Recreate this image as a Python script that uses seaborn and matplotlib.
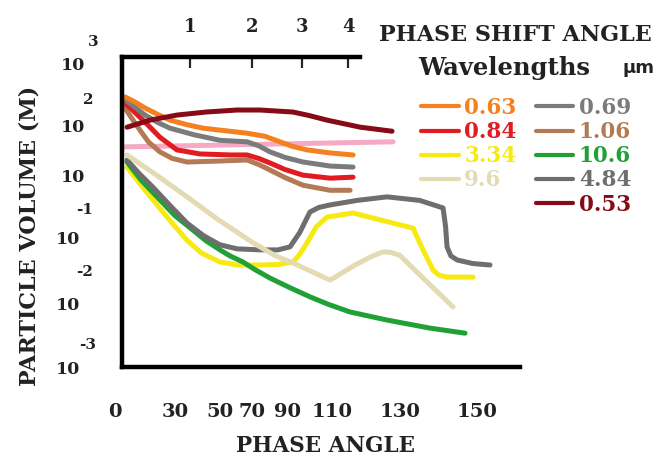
import pandas as pd
import seaborn as sns
import matplotlib.pyplot as plt
from matplotlib.lines import Line2D

# phase angle (x) and log10 particle volume (y)
x_063 = [1.25, 5, 9.6, 15, 20, 27, 33.75, 43, 52.1, 59.6, 65.8, 71, 77.1, 86.7, 96.25]
y_063 = [2.37, 2.28, 2.15, 2.02, 1.91, 1.82, 1.75, 1.70, 1.65, 1.59, 1.48, 1.39, 1.32, 1.26, 1.22]
x_069 = [1.25, 5, 9.6, 15, 20, 30, 40.8, 52.1, 57, 61.7, 68, 75.4, 86.7, 96.25]
y_069 = [2.31, 2.18, 2.01, 1.86, 1.75, 1.62, 1.51, 1.48, 1.40, 1.28, 1.17, 1.08, 1.0, 0.98]
x_084 = [1.25, 5, 9.6, 15.8, 22.9, 32.5, 45, 52.1, 57, 61.7, 68, 75.4, 86.7, 96.25]
y_084 = [2.25, 2.08, 1.87, 1.57, 1.32, 1.24, 1.22, 1.22, 1.15, 1.06, 0.93, 0.82, 0.76, 0.78]
x_106 = [1.25, 4, 7.5, 11, 15.8, 21, 27.1, 40.8, 52.1, 57, 61.7, 68, 75.4, 86.7, 95]
y_106 = [2.15, 1.95, 1.71, 1.48, 1.28, 1.15, 1.08, 1.10, 1.12, 1.03, 0.92, 0.77, 0.62, 0.52, 0.52]
x_pink = [1.25, 57.5, 112.9]
y_pink = [1.38, 1.43, 1.48]
x_053 = [2.1, 11.7, 22.9, 35, 47.9, 57.5, 71.25, 78, 85.4, 99.2, 112.5]
y_053 = [1.77, 1.91, 2.01, 2.07, 2.11, 2.11, 2.07, 2.00, 1.91, 1.77, 1.69]
x_334 = [2.1, 7, 12.9, 20, 27.1, 33, 40.8, 48, 57.5, 65, 71.25, 74, 77.1, 81,
         85.4, 96.25, 121.25, 125, 129.6, 132, 135.4, 146.25]
y_334 = [0.98, 0.68, 0.33, -0.08, -0.47, -0.72, -0.90, -0.96, -0.96, -0.95, -0.90, -0.75, -0.52, -0.20,
         -0.01, 0.07, -0.23, -0.62, -1.06, -1.16, -1.20, -1.20]
x_106b = [2.1, 8, 15.8, 22, 29.6, 35, 40.8, 45, 50.4, 55, 61.7, 70, 78.3, 86, 95, 110.4, 128.3, 142.9]
y_106b = [1.08, 0.72, 0.33, 0.02, -0.27, -0.48, -0.66, -0.78, -0.90, -1.04, -1.22, -1.41, -1.59, -1.74,
          -1.89, -2.05, -2.21, -2.31]
x_484 = [2.1, 7, 12.9, 20, 27.1, 34, 40.8, 48, 57.5, 65, 70, 74, 78.3, 82, 86.7, 98, 110.4,
         124, 133.75, 134.8, 135.4, 137, 139.6, 146, 153.3]
y_484 = [1.12, 0.86, 0.58, 0.22, -0.13, -0.38, -0.56, -0.64, -0.66, -0.66, -0.60, -0.32, 0.09, 0.18,
         0.23, 0.32, 0.39, 0.32, 0.17, -0.20, -0.60, -0.78, -0.86, -0.93, -0.96]
x_96 = [2.1, 15, 27.1, 40, 54.6, 64, 71.25, 86.7, 97.1, 104, 108.75, 112, 115.8, 125, 137.9]
y_96 = [1.22, 0.80, 0.39, -0.06, -0.52, -0.78, -0.92, -1.26, -0.96, -0.79, -0.70, -0.71, -0.77, -1.20, -1.79]

bottom_ticks = [0, 22.1, 40.8, 54.2, 68.75, 87.5, 115.8, 147.9]
bottom_labels = ["0", "30", "50", "70", "90", "110", "130", "150"]
top_ticks = [28.3, 54.2, 75, 94.2]
top_labels = ["1", "2", "3", "4"]

colors = {"0.63": "#f4801f", "0.69": "#7b7b7b", "0.84": "#e01b22", "1.06": "#b27a55",
          "pink": "#f5a9c4", "0.53": "#850b16", "3.34": "#f7ea12", "10.6": "#20a035",
          "4.84": "#6e6e6e", "9.6": "#e3dbb3"}

series = [("pink", x_pink, y_pink), ("1.06", x_106, y_106), ("0.84", x_084, y_084),
          ("0.69", x_069, y_069), ("0.63", x_063, y_063), ("0.53", x_053, y_053),
          ("3.34", x_334, y_334), ("10.6", x_106b, y_106b), ("4.84", x_484, y_484),
          ("9.6", x_96, y_96)]

frames = []
for name, xs, ys in series:
    frames.append(pd.DataFrame({"angle": xs, "volume": ys, "wl": name}))
df = pd.concat(frames, ignore_index=True)

sns.set_style("white")
plt.rcParams["font.family"] = ["DejaVu Serif"]
plt.rcParams["font.weight"] = "bold"

W, H = 656, 459
fig = plt.figure(figsize=(W / 100, H / 100), dpi=100)
ax = fig.add_axes([122 / W, 1 - 367 / H, (520 - 122) / W, (367 - 57) / H])

for name, xs, ys in series:
    sub = df[df["wl"] == name]
    sns.lineplot(data=sub, x="angle", y="volume", color=colors[name], sort=False,
                 linewidth=3.6, ax=ax, legend=False)
for line in ax.get_lines():
    line.set_solid_joinstyle("round")
    line.set_solid_capstyle("round")

ax.set_xlim(0, 165.8)
ax.set_ylim(-2.98, 3.16)
ax.set_xlabel("")
ax.set_ylabel("")
ax.set_yticks([])
ax.set_xticks(bottom_ticks, labels=bottom_labels)
ax.tick_params(axis="x", length=0, pad=26, labelsize=14, labelcolor="#222222")
ax.get_xticklabels()[0].set_ha("right")
for s in ["top", "right"]:
    ax.spines[s].set_visible(False)
for s in ["left", "bottom"]:
    ax.spines[s].set_linewidth(3.2)
    ax.spines[s].set_color("black")

ax2 = ax.twiny()
ax2.set_xlim(ax.get_xlim())
ax2.set_xticks(top_ticks, labels=top_labels)
ax2.tick_params(axis="x", direction="in", length=8, width=1.6, pad=15, labelsize=13,
                labelcolor="#222222")
for s in ["left", "right", "bottom"]:
    ax2.spines[s].set_visible(False)
ax2.spines["top"].set_bounds(0, 99.2)
ax2.spines["top"].set_linewidth(3.2)
ax2.spines["top"].set_color("black")


def fpos(x, y):
    return x / W, 1 - y / H


# y axis labels, placed the way the original has them
for txt, (x, y) in [("10", (73, 65)), ("10", (73, 128)), ("10", (73, 177)),
                    ("10", (68, 240)), ("10", (68, 305)), ("10", (68, 370))]:
    fig.text(*fpos(x, y), txt, ha="center", va="center", fontsize=12.5, color="#222222")
for txt, (x, y) in [("3", (93, 42)), ("2", (88, 100)), ("-1", (85, 210)),
                    ("-2", (85, 272)), ("-3", (88, 345))]:
    fig.text(*fpos(x, y), txt, ha="center", va="center", fontsize=11, color="#222222")

fig.text(*fpos(30, 236), "PARTICLE VOLUME (M)", rotation=90, ha="center", va="center",
         fontsize=16, color="#222222")
fig.text(*fpos(325, 446), "PHASE ANGLE", ha="center", va="center", fontsize=15.5, color="#222222")
fig.text(*fpos(515, 35), "PHASE SHIFT ANGLE", ha="center", va="center", fontsize=16, color="#222222")
fig.text(*fpos(504, 68), "Wavelengths", ha="center", va="center", fontsize=17.5, color="#222222")
fig.text(*fpos(638, 68), "µm", ha="center", va="center", fontsize=13, color="#222222",
         family=["DejaVu Sans"])

legend_order = ["0.63", "0.84", "3.34", "9.6", None, "0.69", "1.06", "10.6", "4.84", "0.53"]
handles = []
labels = []
for name in legend_order:
    if name is None:
        handles.append(Line2D([], [], color="white", alpha=0))
        labels.append(" ")
    else:
        handles.append(Line2D([], [], color=colors[name], linewidth=3))
        labels.append(name)
leg = fig.legend(handles, labels, loc="upper left", bbox_to_anchor=fpos(421, 97), ncol=2,
                 frameon=False, borderpad=0, borderaxespad=0, handlelength=1.75,
                 handletextpad=0.25, columnspacing=0.9, labelspacing=0.1,
                 prop={"size": 15.5, "weight": "bold"})
for t, name in zip(leg.get_texts(), legend_order):
    if name is not None:
        t.set_color(colors[name])

fig.savefig("out.png", dpi=100)
